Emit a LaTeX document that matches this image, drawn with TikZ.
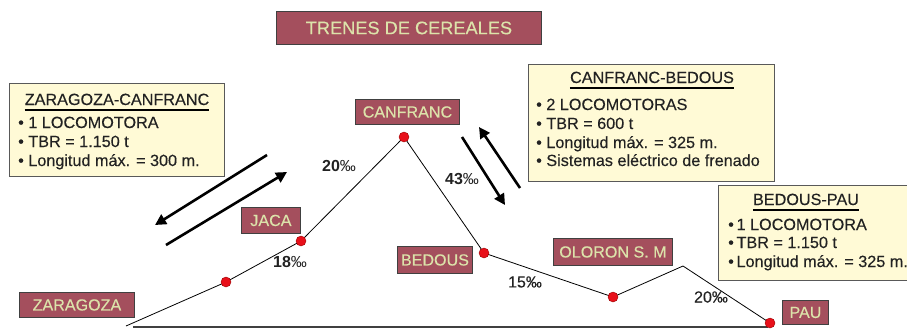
\documentclass[tikz,border=0pt]{standalone}
\usepackage{fontspec}
\setmainfont{Liberation Sans}
\newfontfamily\medfont{Liberation Sans}[FakeBold=0.25]
\usetikzlibrary{arrows.meta}
\definecolor{lblfill}{HTML}{A44F5D}
\definecolor{lbltext}{HTML}{DCE3AA}
\definecolor{infofill}{HTML}{FFFAD6}
\definecolor{dotred}{HTML}{E8101A}
\definecolor{ink}{HTML}{222222}
\tikzset{
  lbl/.style={draw=black!75, line width=0.9pt, fill=lblfill, text=lbltext, font=\medfont\fontsize{16.1}{18}\selectfont, inner sep=0pt, anchor=north west},
  infobox/.style={draw=black!65, line width=0.9pt, fill=infofill, anchor=north west, inner sep=0pt},
  infotxt/.style={font=\medfont\fontsize{16.2}{18}\selectfont, text=ink, anchor=base west, inner sep=0pt},
  infohead/.style={font=\medfont\fontsize{16.2}{18}\selectfont, text=ink, anchor=base, inner sep=0pt},
  pct/.style={font=\fontsize{16}{18}\selectfont, text=ink, inner sep=0pt},
  dot/.style={circle, fill=dotred, draw=red!60!black, line width=0.4pt, minimum size=10pt, inner sep=0pt},
  arr/.style={line width=2.6pt, -{Triangle[length=11pt,width=11pt]}},
  uline/.style={line width=2.6pt},
  prof/.style={line width=0.8pt},
  base/.style={line width=2pt, draw=black!75}
}
\begin{document}
\begin{tikzpicture}[x=1pt,y=-1pt]
\useasboundingbox (0,0) rectangle (907,335);
% title
\node[lbl, minimum width=265pt, minimum height=33pt, font=\medfont\fontsize{18.2}{20}\selectfont] (title) at (276,11) {TRENES DE CEREALES};

% info box 1
\node[infobox, minimum width=215pt, minimum height=93pt] (b1) at (9,83) {};
\node[infohead] (h1) at (117,105) {ZARAGOZA-CANFRANC};
\draw[uline] ([yshift=-4.5pt]h1.south west) -- ([yshift=-4.5pt]h1.south east);
\node[infotxt] (t11) at (18,128) {\textbullet\ 1 LOCOMOTORA};
\node[infotxt] (t12) at (18,147) {\textbullet\ TBR = 1.150 t};
\node[infotxt] (t13) at (18,166) {\textbullet\ Longitud máx. = 300 m.};

% info box 2
\node[infobox, minimum width=246pt, minimum height=117pt] (b2) at (528,64) {};
\node[infohead] (h2) at (652,83) {CANFRANC-BEDOUS};
\draw[uline] ([yshift=-4.5pt]h2.south west) -- ([yshift=-4.5pt]h2.south east);
\node[infotxt] (t21) at (536,110) {\textbullet\ 2 LOCOMOTORAS};
\node[infotxt] (t22) at (536,129) {\textbullet\ TBR = 600 t};
\node[infotxt] (t23) at (536,148) {\textbullet\ Longitud máx. = 325 m.};
\node[infotxt] (t24) at (536,166) {\textbullet\ Sistemas eléctrico de frenado};

% info box 3
\node[infobox, minimum width=200pt, minimum height=95pt] (b3) at (718,185) {};
\node[infohead] (h3) at (806,205) {BEDOUS-PAU};
\draw[uline] ([yshift=-4.5pt]h3.south west) -- ([yshift=-4.5pt]h3.south east);
\node[infotxt] (t31) at (728,230) {\textbullet\,1 LOCOMOTORA};
\node[infotxt] (t32) at (728,248) {\textbullet\,TBR = 1.150 t};
\node[infotxt] (t33) at (728,267) {\textbullet\,Longitud máx. = 325 m.};

% baseline
\coordinate (bl) at (133,327);
\coordinate (br) at (768,327);
\draw[base] (bl) -- (br);

% profile
\coordinate (z0) at (126,326);
\coordinate (d1) at (226,282);
\coordinate (jaca) at (301,241);
\coordinate (canf) at (404,137);
\coordinate (bed) at (484,253);
\coordinate (olo) at (613,297);
\coordinate (peak) at (683,266);
\coordinate (pau) at (770,323);
\draw[prof] (z0) -- (d1) -- (jaca) -- (canf) -- (bed) -- (olo) -- (peak) -- (pau);
\foreach \p in {d1,jaca,canf,bed,olo,pau}{\node[dot] (dot-\p) at (\p) {};}

% labels
\node[lbl, minimum width=115pt, minimum height=25pt] (lz) at (19,292) {ZARAGOZA};
\node[lbl, minimum width=59pt, minimum height=26pt] (lj) at (241,207) {JACA};
\node[lbl, minimum width=104pt, minimum height=25pt] (lc) at (355,99) {CANFRANC};
\node[lbl, minimum width=75pt, minimum height=27pt] (lb) at (397,246) {BEDOUS};
\node[lbl, minimum width=119pt, minimum height=27pt] (lo) at (553,238) {OLORON S. M};
\node[lbl, minimum width=46pt, minimum height=24pt] (lp) at (782,300) {PAU};

% percentages
\node[pct] (p1) at (339,166) {\textbf{20}‰};
\node[pct] (p2) at (290,262) {\textbf{18}‰};
\node[pct] (p3) at (462,179) {\textbf{43}‰};
\node[pct] (p4) at (525,282) {\medfont 15‰};
\node[pct] (p5) at (711,297) {\medfont 20‰};

% arrows
\coordinate (a1s) at (267,155);
\coordinate (a1e) at (155,225);
\coordinate (a2s) at (166,245);
\coordinate (a2e) at (287,172);
\coordinate (a3s) at (462,137);
\coordinate (a3e) at (505,205);
\coordinate (a4s) at (520,188);
\coordinate (a4e) at (479,127);
\draw[arr] (a1s) -- (a1e);
\draw[arr] (a2s) -- (a2e);
\draw[arr] (a3s) -- (a3e);
\draw[arr] (a4s) -- (a4e);
\end{tikzpicture}
\end{document}
